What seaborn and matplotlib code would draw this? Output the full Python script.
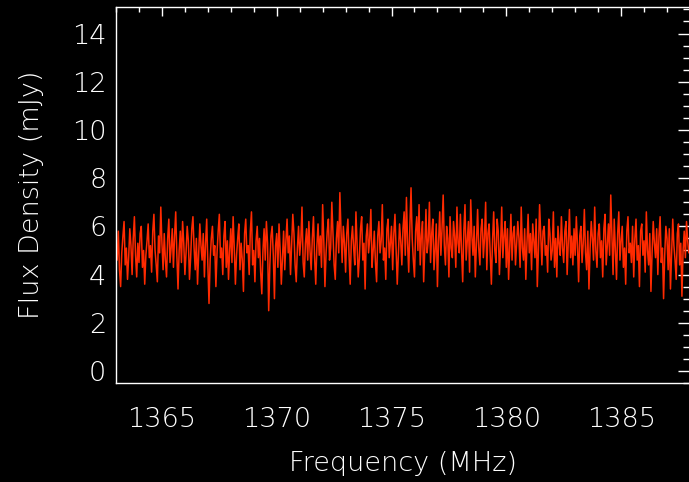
import numpy as np
import pandas as pd
import matplotlib
matplotlib.use("Agg")
import matplotlib.pyplot as plt
from matplotlib.ticker import MultipleLocator
import seaborn as sns

# ---- data ----
freq_start = 1363.0      # MHz, first channel
chan_width = 0.05        # MHz per channel
flux = [
    5.3, 4.6, 5.8, 4.2, 3.5, 4.9, 5.6, 6.2, 4.4, 5.1, 3.8, 4.7, 5.9, 5.2, 4.0, 5.5, 6.4, 4.8, 3.9, 5.3, 4.5, 5.7, 6.0, 4.3, 5.0,
    3.6, 4.8, 5.4, 6.1, 4.7, 5.2, 4.1, 5.8, 6.5, 5.0, 4.4, 3.7, 5.6, 4.9, 6.8, 5.3, 4.2, 5.7, 4.6, 3.9, 5.5, 6.3, 4.5, 5.1, 5.9,
    4.3, 5.6, 6.6, 4.8, 3.4, 5.0, 5.8, 4.5, 6.2, 5.3, 4.0, 4.9, 6.0, 5.4, 3.8, 4.7, 5.9, 6.4, 5.1, 4.2, 5.5, 3.6, 4.9, 6.1, 5.2,
    4.6, 5.7, 3.9, 5.3, 6.3, 4.4, 2.8, 4.6, 5.5, 6.0, 4.8, 5.2, 3.5, 4.9, 5.8, 6.5, 4.7, 5.1, 4.0, 5.6, 6.2, 4.3, 5.4, 3.8, 5.0,
    5.9, 4.5, 6.4, 5.1, 3.6, 4.8, 5.5, 6.1, 4.2, 5.3, 4.6, 3.3, 5.7, 6.3, 4.9, 5.2, 4.0, 5.8, 6.6, 4.4, 5.0, 3.7, 5.4, 6.0, 4.7,
    5.5, 4.1, 3.2, 5.0, 5.9, 4.6, 6.2, 5.3, 2.5, 4.4, 5.6, 6.0, 4.8, 3.0, 5.2, 5.7, 4.3, 6.1, 5.0, 3.6, 4.7, 5.8, 4.2, 5.4, 6.3,
    4.9, 5.6, 4.0, 5.2, 6.5, 5.7, 4.4, 3.7, 5.1, 6.0, 4.8, 5.4, 6.8, 4.5, 3.9, 5.3, 5.9, 4.6, 6.2, 5.0, 4.2, 5.5, 6.4, 4.7, 3.6,
    5.2, 6.1, 4.8, 5.6, 4.3, 6.9, 5.4, 3.5, 4.9, 5.8, 6.3, 4.6, 5.1, 7.0, 5.7, 4.4, 3.8, 5.5, 6.2, 4.9, 7.4, 5.8, 4.5, 6.0, 5.3,
    4.1, 5.7, 6.3, 4.8, 3.6, 5.4, 6.0, 5.1, 4.4, 6.6, 5.2, 3.9, 4.7, 5.9, 6.4, 4.6, 5.3, 3.4, 5.6, 6.1, 4.9, 5.5, 6.7, 4.3, 5.0,
    5.8, 4.5, 3.7, 5.6, 6.2, 4.9, 5.4, 6.9, 4.6, 5.1, 3.8, 5.9, 6.3, 4.7, 5.3, 6.0, 4.2, 5.7, 6.5, 5.0, 3.6, 4.8, 6.1, 5.4, 4.4,
    5.9, 6.6, 4.8, 7.2, 5.3, 4.1, 6.0, 7.6, 5.5, 4.6, 3.9, 5.8, 6.4, 5.0, 6.9, 4.4, 5.6, 6.2, 3.7, 5.1, 6.7, 4.9, 5.4, 7.0, 4.5,
    5.7, 6.3, 4.2, 5.0, 6.1, 3.5, 5.4, 6.6, 4.8, 5.9, 7.3, 5.2, 4.4, 6.0, 5.5, 3.9, 6.4, 5.1, 4.7, 6.2, 5.6, 4.3, 6.8, 5.3, 4.9,
    6.5, 5.0, 3.7, 5.8, 6.9, 4.6, 5.4, 6.2, 4.1, 7.1, 5.6, 4.8, 6.0, 3.9, 5.3, 6.7, 5.1, 4.4, 5.9, 6.3, 4.7, 5.5, 7.0, 4.2, 5.7,
    6.1, 4.9, 3.6, 5.4, 6.6, 5.0, 4.5, 6.3, 5.8, 4.0, 5.2, 6.8, 4.7, 5.6, 6.2, 4.3, 5.9, 3.8, 5.1, 6.5, 4.6, 5.7, 6.0, 4.4, 5.3,
    6.2, 5.5, 4.3, 6.8, 5.1, 4.6, 5.9, 3.8, 5.3, 6.5, 4.9, 5.7, 4.2, 6.1, 5.4, 4.7, 6.3, 3.5, 5.0, 6.9, 5.6, 4.4, 5.8, 6.0, 4.8,
    5.2, 4.1, 6.3, 5.7, 4.6, 5.0, 6.6, 4.3, 5.5, 3.9, 6.0, 5.3, 4.8, 6.4, 5.1, 4.5, 5.8, 6.2, 4.0, 5.4, 6.7, 4.7, 5.6, 4.4, 5.9,
    4.8, 6.4, 5.2, 3.7, 5.6, 6.0, 4.5, 5.3, 6.7, 4.9, 4.2, 5.8, 3.4, 5.1, 6.2, 5.5, 4.6, 6.8, 5.0, 4.3, 5.7, 6.1, 4.7, 5.4, 3.9,
    5.9, 6.5, 4.4, 5.2, 6.1, 4.8, 7.3, 5.6, 4.0, 6.3, 5.0, 3.8, 5.7, 6.6, 4.6, 5.4, 6.0, 4.3, 5.1, 3.6, 5.8, 6.4, 4.9, 5.3, 4.5,
    6.0, 3.9, 5.5, 6.3, 4.6, 5.2, 3.5, 5.8, 6.1, 4.8, 5.4, 4.1, 6.6, 5.0, 4.4, 5.7, 3.3, 4.9, 6.2, 5.3, 4.7, 5.9, 4.0, 5.6, 6.4,
    4.5, 5.1, 3.0, 4.8, 6.0, 5.5, 4.2, 5.9, 3.4, 4.9, 6.3, 5.2, 4.6, 3.8, 5.7, 6.1, 4.4, 5.3, 3.1, 5.0, 5.8, 4.7, 6.2, 5.4, 4.9,
]
x_ticks = [1365, 1370, 1375, 1380, 1385]
y_ticks = [0, 2, 4, 6, 8, 10, 12, 14]
x_label = "Frequency (MHz)"
y_label = "Flux Density (mJy)"

freq = freq_start + chan_width * np.arange(len(flux))
df = pd.DataFrame({"freq": freq, "flux": flux})

# ---- style ----
sns.set_style("dark", {"axes.facecolor": "black", "figure.facecolor": "black"})
plt.rcParams["font.family"] = ["DejaVu Sans"]
plt.rcParams["font.weight"] = "light"
plt.rcParams["axes.labelweight"] = "light"

fig = plt.figure(figsize=(6.89, 4.82), dpi=100)
ax = fig.add_axes([0.1684, 0.2054, 0.8330, 0.7800])
ax.set_facecolor("black")

sns.lineplot(data=df, x="freq", y="flux", ax=ax, color="#ff2a00",
             linewidth=1.1, estimator=None, sort=False)

ax.set_xlim(1363.0, 1388.0)
ax.set_ylim(-0.5, 15.1)
ax.set_xticks(x_ticks)
ax.set_yticks(y_ticks)
ax.xaxis.set_minor_locator(MultipleLocator(1))
ax.yaxis.set_minor_locator(MultipleLocator(0.5))
ax.grid(False)

for s in ax.spines.values():
    s.set_visible(True)
    s.set_color("white")
    s.set_linewidth(1.0)

ax.tick_params(axis="both", which="both", direction="in", colors="white",
               top=True, right=True, width=1.0, labelsize=19.5)
ax.tick_params(axis="x", which="major", length=6.5, pad=17)
ax.tick_params(axis="x", which="minor", length=3.3)
ax.tick_params(axis="y", which="major", length=8.6, pad=7)
ax.tick_params(axis="y", which="minor", length=5)

ax.set_xlabel(x_label, color="white", fontsize=19.5, labelpad=14, fontweight="light")
ax.set_ylabel(y_label, color="white", fontsize=19.5, labelpad=20, fontweight="light")
for lab in ax.get_xticklabels() + ax.get_yticklabels():
    lab.set_fontweight("light")

fig.savefig("out.png", dpi=100, facecolor="black")
